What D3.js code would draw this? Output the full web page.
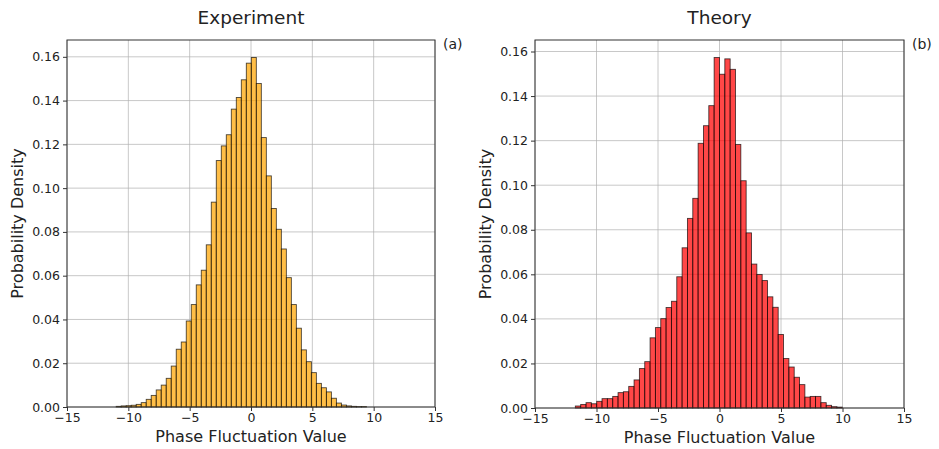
<!DOCTYPE html>
<html><head><meta charset="utf-8">
<script src="https://cdn.jsdelivr.net/npm/d3@7"></script>
<style>
html,body{margin:0;padding:0;background:#fff;}
svg text{font-family:"DejaVu Sans",sans-serif;fill:#222;}
</style></head>
<body><svg id="c" width="939" height="449"></svg>
<script>
// ---- data ----
const xTicks = [-15, -10, -5, 0, 5, 10, 15];
const yTicks = [0, 0.02, 0.04, 0.06, 0.08, 0.10, 0.12, 0.14, 0.16];

const expRange = [-10.99, 9.41];   // histogram range (50 bins)
const expDensity = [0.0003,0.0005,0.0006,0.0008,0.0012,0.0020,0.0035,0.0053,0.0078,0.0100,
  0.0131,0.0187,0.0264,0.0297,0.0393,0.0468,0.0558,0.0625,0.0741,0.0936,
  0.1126,0.1193,0.1244,0.1361,0.1414,0.1495,0.1571,0.1597,0.1478,0.1231,
  0.1056,0.0907,0.0812,0.0722,0.0591,0.0468,0.0360,0.0261,0.0207,0.0157,
  0.0108,0.0088,0.0069,0.0040,0.0018,0.0009,0.0005,0.0003,0.0002,0.0002];

const theoryRange = [-11.72, 9.98];
const theoryDensity = [0.0009,0.0016,0.0024,0.0019,0.0030,0.0042,0.0042,0.0052,0.0069,0.0073,
  0.0097,0.0126,0.0177,0.0208,0.0315,0.0361,0.0401,0.0451,0.0479,0.0589,
  0.0719,0.0851,0.0941,0.1188,0.1267,0.1357,0.1573,0.1498,0.1567,0.1520,
  0.1183,0.1020,0.0786,0.0646,0.0599,0.0572,0.0499,0.0452,0.0330,0.0222,
  0.0184,0.0138,0.0105,0.0049,0.0052,0.0052,0.0024,0.0012,0.0006,0.0004];

const panels = [
  {title:"Experiment", tag:"(a)", range:expRange, dens:expDensity, color:"#FFA500",
   box:{x0:67,x1:435,y0:40,y1:407}},
  {title:"Theory", tag:"(b)", range:theoryRange, dens:theoryDensity, color:"#FF0000",
   box:{x0:535,x1:904,y0:40,y1:408}}
];

const svg = d3.select("#c");
const fmtMinus = v => (v<0 ? "\u2212"+Math.abs(v) : ""+v);

panels.forEach(p=>{
  const b = p.box;
  const n = p.dens.length;
  const w = (p.range[1]-p.range[0])/n;
  const bins = p.dens.map((d,i)=>({x0:p.range[0]+i*w, x1:p.range[0]+(i+1)*w, v:d}));
  const ymax = d3.max(p.dens)*1.05;
  const x = d3.scaleLinear().domain([-15,15]).range([b.x0,b.x1]);
  const y = d3.scaleLinear().domain([0,ymax]).range([b.y1,b.y0]);
  const g = svg.append("g");

  // grid
  g.append("g").selectAll("line.gx").data(xTicks).join("line")
    .attr("x1",d=>x(d)).attr("x2",d=>x(d)).attr("y1",b.y0).attr("y2",b.y1)
    .attr("stroke","#b0b0b0").attr("stroke-opacity",0.7).attr("stroke-width",1);
  g.append("g").selectAll("line.gy").data(yTicks).join("line")
    .attr("y1",d=>y(d)).attr("y2",d=>y(d)).attr("x1",b.x0).attr("x2",b.x1)
    .attr("stroke","#b0b0b0").attr("stroke-opacity",0.7).attr("stroke-width",1);

  // bars
  g.append("g").selectAll("rect").data(bins).join("rect")
    .attr("x",d=>x(d.x0)).attr("width",d=>x(d.x1)-x(d.x0))
    .attr("y",d=>y(d.v)).attr("height",d=>y(0)-y(d.v))
    .attr("fill",p.color).attr("fill-opacity",0.72)
    .attr("stroke","#000").attr("stroke-opacity",0.7).attr("stroke-width",0.9);

  // axes
  const xa = g.append("g").attr("transform",`translate(0,${b.y1})`)
    .call(d3.axisBottom(x).tickValues(xTicks).tickSize(4).tickPadding(2).tickFormat(fmtMinus));
  const ya = g.append("g").attr("transform",`translate(${b.x0},0)`)
    .call(d3.axisLeft(y).tickValues(yTicks).tickSize(4).tickPadding(3).tickFormat(d3.format(".2f")));
  [xa,ya].forEach(a=>{
    a.select(".domain").remove();
    a.selectAll("text").attr("font-size",12.5).attr("fill","#222").style("font-family","DejaVu Sans");
    a.selectAll("line").attr("stroke","#333");
  });
  g.append("rect").attr("x",b.x0).attr("y",b.y0).attr("width",b.x1-b.x0).attr("height",b.y1-b.y0)
    .attr("fill","none").attr("stroke","#333").attr("stroke-width",1);

  // labels
  g.append("text").attr("x",(b.x0+b.x1)/2).attr("y",b.y0-16).attr("text-anchor","middle")
    .attr("font-size",18.5).text(p.title);
  g.append("text").attr("x",b.x1+8).attr("y",b.y0+9).attr("font-size",14).text(p.tag);
  g.append("text").attr("x",(b.x0+b.x1)/2).attr("y",b.y1+35).attr("text-anchor","middle")
    .attr("font-size",16).text("Phase Fluctuation Value");
  g.append("text").attr("transform",`translate(${b.x0-44},${(b.y0+b.y1)/2}) rotate(-90)`)
    .attr("text-anchor","middle").attr("font-size",16).text("Probability Density");
});
</script></body></html>
